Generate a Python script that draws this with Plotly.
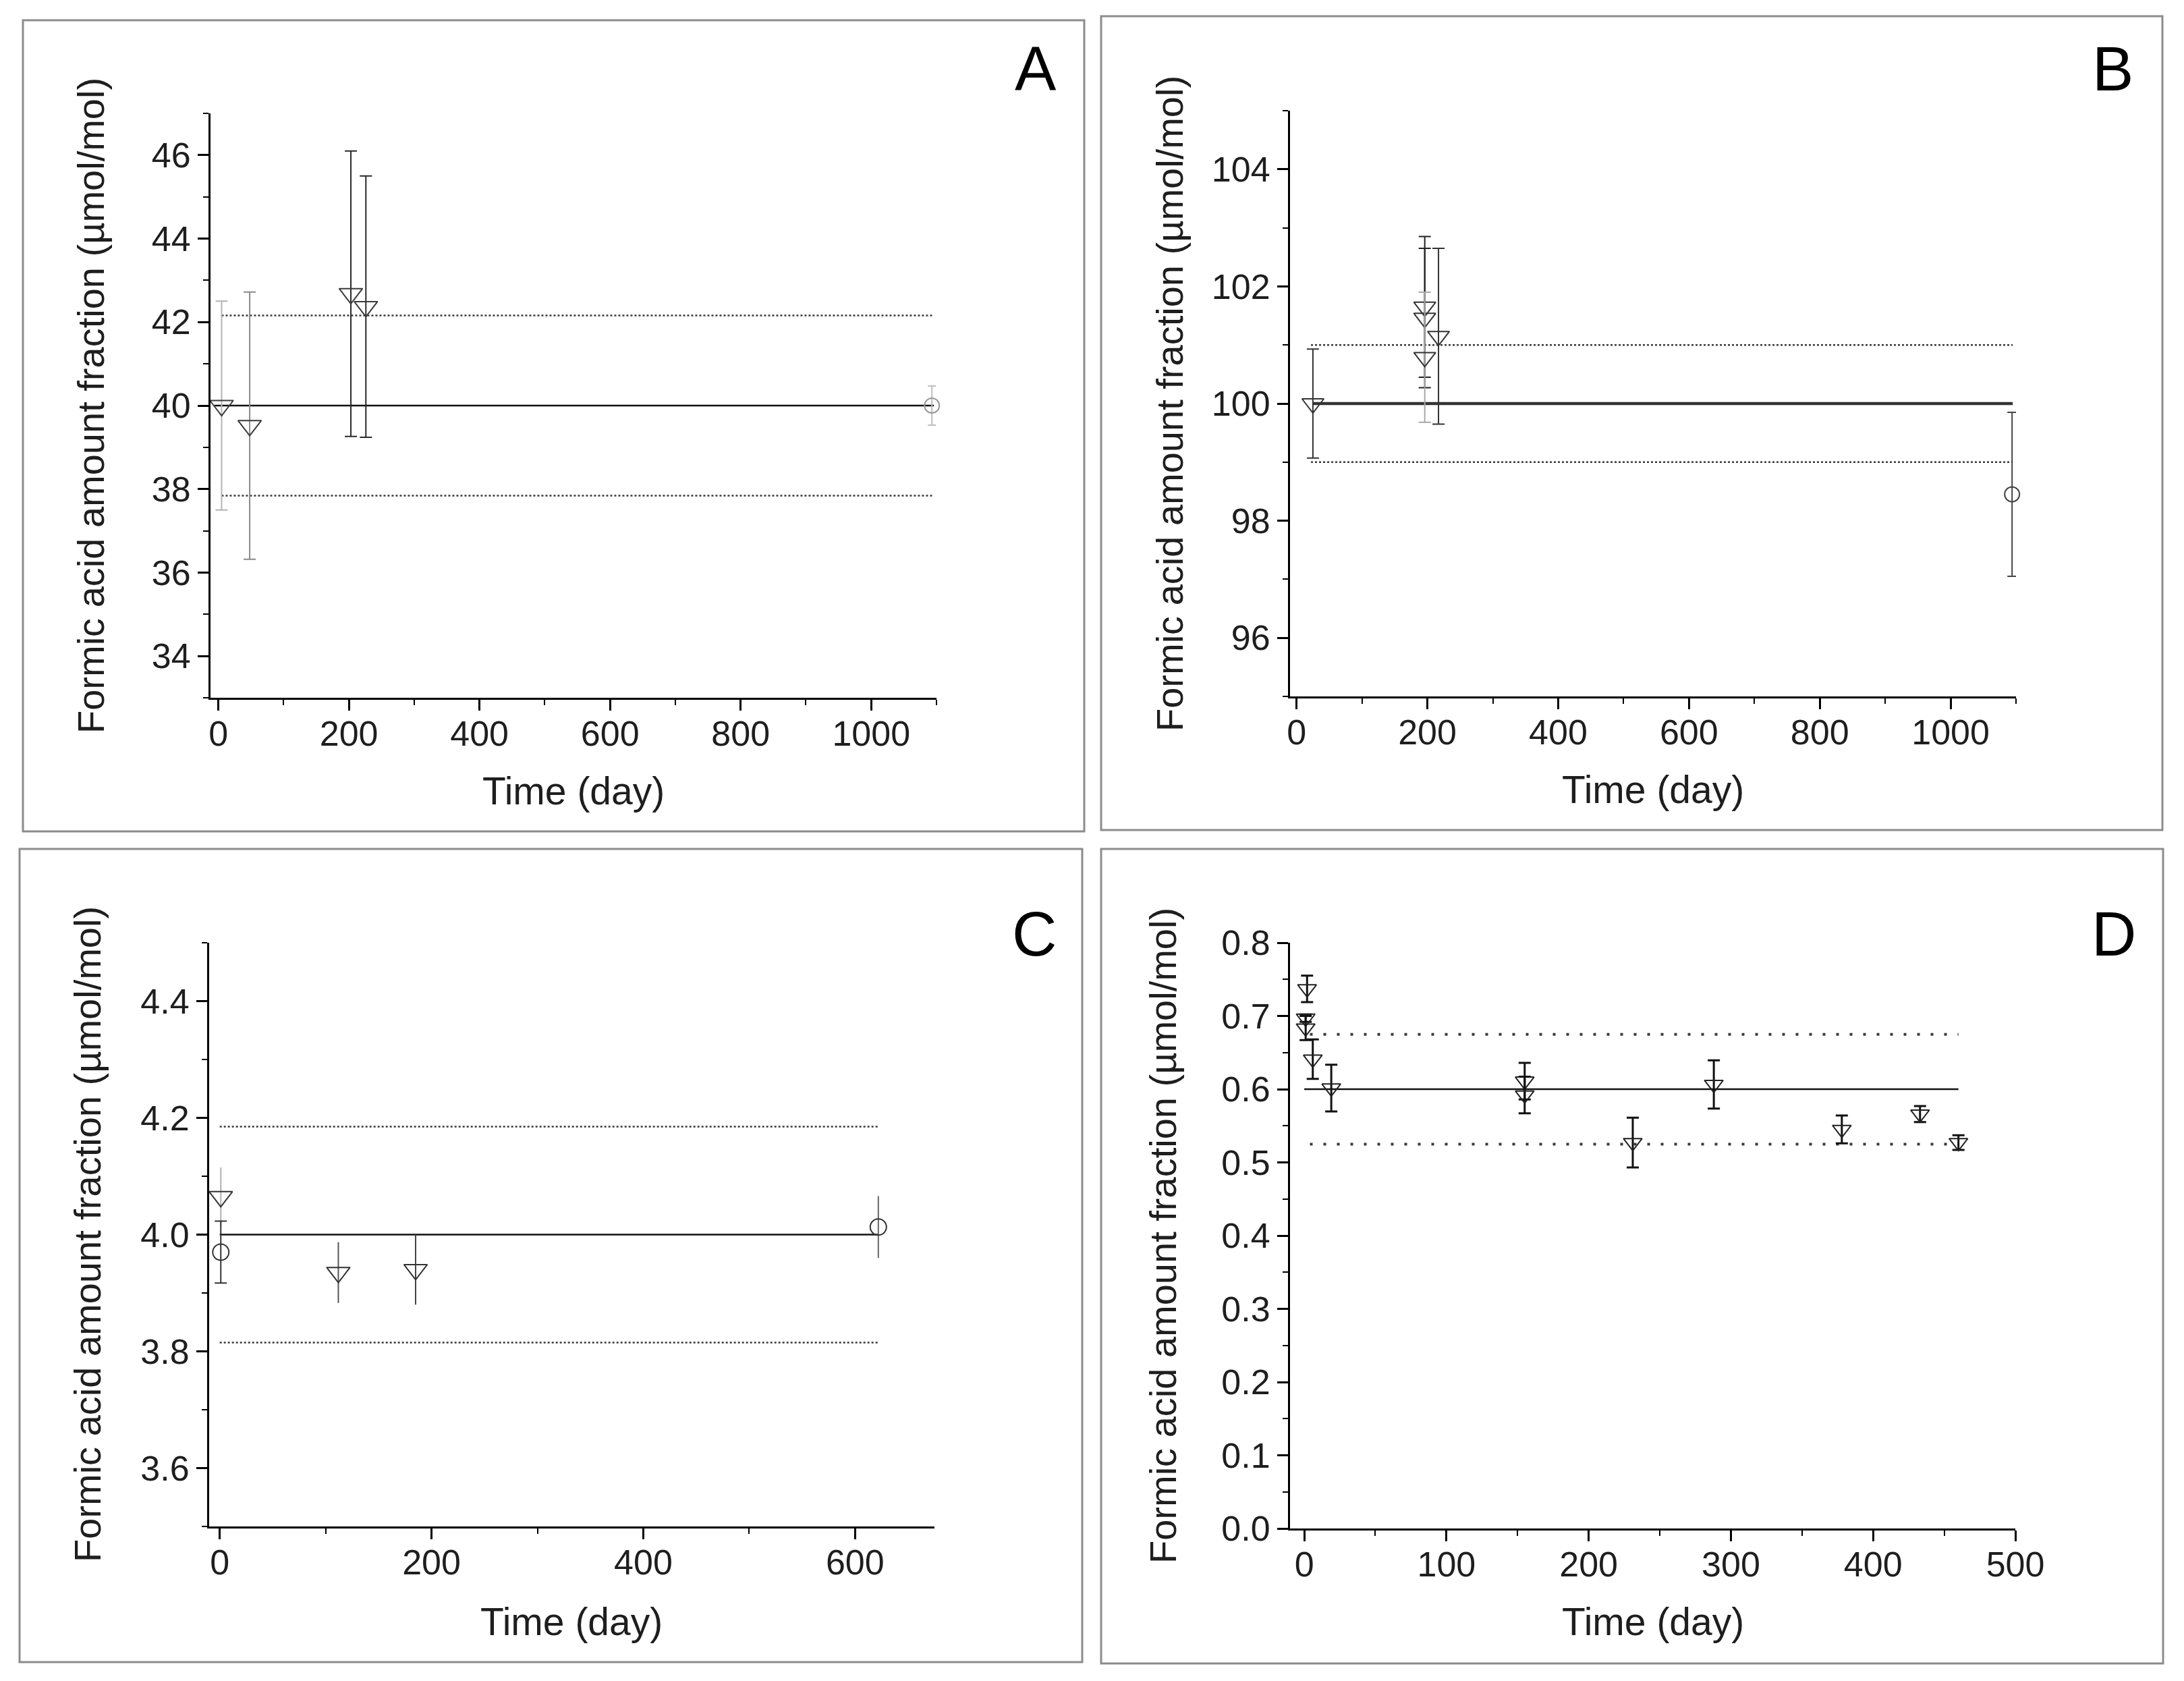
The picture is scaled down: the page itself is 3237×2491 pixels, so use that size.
import plotly.graph_objects as go

W, H = 3237, 2491

# ---- panel A ----
a_tri_time = [5, 48, 203, 226]
a_tri_val = [40.0, 39.52, 42.68, 42.37]
a_tri_err = [2.5, 3.2, 3.42, 3.13]
a_circ_time = [1093]
a_circ_val = [40.0]
a_circ_err = [0.47]
a_ref, a_ref_u = 40.0, 2.16
a_ref_span = [-6, 1096]
a_band_span = [5, 1096]

# ---- panel B ----
b_tri_time = [25, 196, 196, 196, 217]
b_tri_val = [100.0, 101.65, 101.46, 100.79, 101.15]
b_tri_err = [0.93, 1.2, 1.19, 1.11, 1.5]
b_circ_time = [1094]
b_circ_val = [98.45]
b_circ_err = [1.4]
b_ref, b_ref_u = 100.0, 1.0
b_ref_span = [25, 1095]
b_band_span = [22, 1095]

# ---- panel C ----
c_tri_time = [1, 112, 185]
c_tri_val = [4.065, 3.935, 3.94]
c_tri_err = [0.05, 0.052, 0.06]
c_circ_time = [1, 622]
c_circ_val = [3.97, 4.013]
c_circ_err = [0.053, 0.053]
c_ref, c_ref_u = 4.0, 0.185
c_ref_span = [0, 622]
c_band_span = [0, 623]

# ---- panel D ----
d_tri_time = [2, 1, 1, 6, 19, 155, 155, 231, 288, 378, 433, 460]
d_tri_val = [0.737, 0.697, 0.6835, 0.641, 0.6015, 0.611, 0.592, 0.527, 0.6065, 0.545, 0.566, 0.527]
d_tri_err = [0.018, 0.005, 0.0165, 0.027, 0.032, 0.025, 0.025, 0.034, 0.033, 0.019, 0.011, 0.01]
d_ref, d_ref_u = 0.6, 0.075
d_ref_span = [0, 460]
d_band_span = [4, 460]

y_title = "Formic acid amount fraction (µmol/mol)"
x_title = "Time (day)"

FONT = "Liberation Sans, Arial, sans-serif"
INK = "#1e1e1e"

# error-bar shading per point (style, not data)
a_tri_shade = ["#b4b4b4", "#8a8a8a", "#2a2a2a", "#2a2a2a"]
a_circ_shade = ["#bdbdbd"]
b_tri_shade = ["#333333", "#222222", "#222222", "#a8a8a8", "#333333"]
b_circ_shade = ["#444444"]
c_tri_shade = ["#b0b0b0", "#555555", "#444444"]
c_circ_shade = ["#333333", "#666666"]
d_tri_shade = ["#111111"] * len(d_tri_time)


def px(x):
    return x / W


def py(y):
    return 1 - y / H


fig = go.Figure()


def add_points(xs, ys, errs, shades, axis, symbol, size, cap, thick, mcolor=None):
    for x, y, e, c in zip(xs, ys, errs, shades):
        fig.add_trace(go.Scatter(
            x=[x], y=[y], mode="markers",
            marker=dict(symbol=symbol, size=size, color=mcolor or c, line=dict(width=2)),
            error_y=dict(type="data", array=[e], color=c, thickness=thick, width=cap),
            xaxis="x" + axis, yaxis="y" + axis, showlegend=False, hoverinfo="skip",
            cliponaxis=False,
        ))


def add_ref(ref, u, ref_span, band_span, axis, ref_w, ref_col, band_dash, band_w):
    for val, span, dash, w, col in [
        (ref + u, band_span, band_dash, band_w, "#3a3a3a"),
        (ref - u, band_span, band_dash, band_w, "#3a3a3a"),
        (ref, ref_span, "solid", ref_w, ref_col),
    ]:
        fig.add_trace(go.Scatter(
            x=span, y=[val, val], mode="lines",
            line=dict(color=col, width=w, dash=dash),
            xaxis="x" + axis, yaxis="y" + axis, showlegend=False, hoverinfo="skip",
        ))


add_ref(a_ref, a_ref_u, a_ref_span, a_band_span, "", 2.5, "#111111", "dot", 2.5)
add_points(a_tri_time, a_tri_val, a_tri_err, a_tri_shade, "", "triangle-down-open", 30, 9, 2, "#3a3a3a")
add_points(a_circ_time, a_circ_val, a_circ_err, a_circ_shade, "", "circle-open", 22, 6, 2, "#9a9a9a")

add_ref(b_ref, b_ref_u, b_ref_span, b_band_span, "2", 4.5, "#333333", "dot", 2.5)
add_points(b_tri_time, b_tri_val, b_tri_err, b_tri_shade, "2", "triangle-down-open", 28, 9, 2, "#333333")
add_points(b_circ_time, b_circ_val, b_circ_err, b_circ_shade, "2", "circle-open", 22, 7, 2, "#444444")

add_ref(c_ref, c_ref_u, c_ref_span, c_band_span, "3", 2.5, "#111111", "dot", 2.5)
add_points(c_tri_time, c_tri_val, c_tri_err, c_tri_shade, "3", "triangle-down-open", 30, 0, 2, "#333333")
add_points(c_circ_time[:1], c_circ_val[:1], c_circ_err[:1], c_circ_shade[:1], "3", "circle-open", 24, 9, 2, "#333333")
add_points(c_circ_time[1:], c_circ_val[1:], c_circ_err[1:], c_circ_shade[1:], "3", "circle-open", 24, 0, 2, "#333333")

add_ref(d_ref, d_ref_u, d_ref_span, d_band_span, "4", 2.5, "#111111", "4px,16px", 4)
add_points(d_tri_time, d_tri_val, d_tri_err, d_tri_shade, "4", "triangle-down-open", 24, 9, 3, "#222222")

# axes geometry in pixels: (left, right, top, bottom)
boxes = {
    "": (312, 1388, 168, 1034),
    "2": (1912, 2988, 164, 1032),
    "3": (310, 1385, 1397, 2262),
    "4": (1912, 2987, 1397, 2265),
}
xranges = {"": [-12, 1100], "2": [-10, 1100], "3": [-10, 675], "4": [-10, 500]}
xticks = {"": (200, 100), "2": (200, 100), "3": (200, 100), "4": (100, 50)}
yranges = {"": [33, 47], "2": [95, 105], "3": [3.5, 4.5], "4": [0, 0.8]}
yticks = {"": (2, 1, ""), "2": (2, 1, ""), "3": (0.2, 0.1, ".1f"), "4": (0.1, 0.05, ".1f")}

common = dict(
    showline=True, linecolor="black", linewidth=3, ticks="outside", ticklen=16,
    tickwidth=2.5, tickcolor="black", showgrid=False, zeroline=False, automargin=False,
    tickfont=dict(family=FONT, size=52, color=INK), fixedrange=True,
)

layout_axes = {}
for key, (l, r, t, b) in boxes.items():
    xmaj, xmin = xticks[key]
    ymaj, ymin, yfmt = yticks[key]
    layout_axes["xaxis" + key] = dict(
        common, domain=[px(l), px(r)], range=xranges[key], anchor="y" + key,
        tick0=0, dtick=xmaj, ticklabelstandoff=-10,
        minor=dict(ticks="outside", ticklen=8, tickwidth=2, tickcolor="black", dtick=xmin, tick0=0),
    )
    layout_axes["yaxis" + key] = dict(
        common, domain=[py(b), py(t)], range=yranges[key], anchor="x" + key,
        tick0=0, dtick=ymaj, tickformat=yfmt,
        minor=dict(ticks="outside", ticklen=8, tickwidth=2, tickcolor="black", dtick=ymin, tick0=0),
    )

annotations = []
# axis titles
for xc, yc in [(134, 601), (1733, 598), (129, 1829), (1723, 1831)]:
    annotations.append(dict(text=y_title, x=px(xc), y=py(yc), xref="paper", yref="paper",
                            textangle=-90, showarrow=False, xanchor="center", yanchor="middle",
                            font=dict(family=FONT, size=56, color=INK)))
for xc, yc in [(850, 1172), (2450, 1170), (847, 2403), (2450, 2403)]:
    annotations.append(dict(text=x_title, x=px(xc), y=py(yc), xref="paper", yref="paper",
                            showarrow=False, xanchor="center", yanchor="middle",
                            font=dict(family=FONT, size=57, color=INK)))
# panel letters
for letter, xc, yc in [("A", 1535, 102), ("B", 3131, 102), ("C", 1533, 1384), ("D", 3133, 1384)]:
    annotations.append(dict(text=letter, x=px(xc), y=py(yc), xref="paper", yref="paper",
                            showarrow=False, xanchor="center", yanchor="middle",
                            font=dict(family=FONT, size=92, color="black")))

# panel frames
shapes = []
for l, t, r, b in [(34, 30, 1607, 1232), (1632, 24, 3205, 1230),
                   (29, 1258, 1604, 2463), (1632, 1258, 3206, 2465)]:
    shapes.append(dict(type="rect", xref="paper", yref="paper",
                       x0=px(l), x1=px(r), y0=py(b), y1=py(t),
                       line=dict(color="#8c8c8c", width=3)))

fig.update_layout(
    width=W, height=H, autosize=False,
    margin=dict(l=0, r=0, t=0, b=0, pad=0, autoexpand=False),
    paper_bgcolor="white", plot_bgcolor="white",
    showlegend=False, annotations=annotations, shapes=shapes,
    **layout_axes,
)

fig.write_html("out.html", config={"displayModeBar": False},
               post_script="document.body.style.margin='0';")
